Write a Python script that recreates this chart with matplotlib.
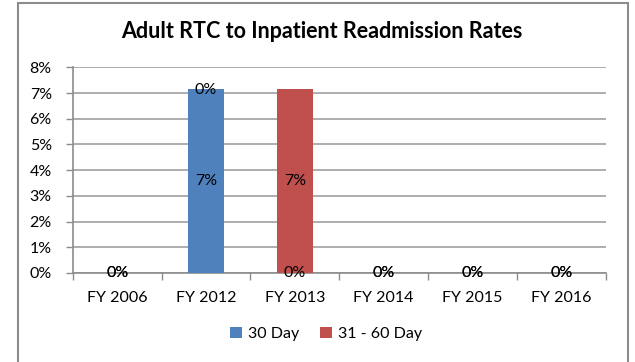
import matplotlib.pyplot as plt
from matplotlib.patches import Rectangle
from matplotlib.ticker import FuncFormatter

years = ["FY 2006", "FY 2012", "FY 2013", "FY 2014", "FY 2015", "FY 2016"]
day30 = [0, 1 / 14, 0, 0, 0, 0]
day31_60 = [0, 0, 1 / 14, 0, 0, 0]

plt.rcParams['font.family'] = ['Lato', 'DejaVu Sans']

fig = plt.figure(figsize=(6.35, 3.62), dpi=100)
ax = fig.add_axes([0.1145, 0.246, 0.8395, 0.568])

# chart frame, open at the bottom edge
fig.patches.append(Rectangle((17.5 / 635, -0.05), (628 - 17.5) / 635, 1.05 - 3.5 / 362,
                             transform=fig.transFigure, fill=False,
                             edgecolor='#8c8c8c', linewidth=1.5))

x = range(len(years))
w = 0.41
b1 = ax.bar(x, day30, w, color='#4F81BD', label='30 Day', zorder=3)
b2 = ax.bar(x, day31_60, w, bottom=day30, color='#C0504D', label='31 - 60 Day', zorder=3)

# centred value labels on each stacked segment
for i in x:
    for val, base in ((day30[i], 0), (day31_60[i], day30[i])):
        ax.text(i, base + val / 2 - 0.0001, f"{val:.0%}", ha='center', va='center',
                fontsize=11.5, color='black', zorder=4)

ax.set_ylim(0, 0.08)
ax.set_yticks([k / 100 for k in range(9)])
ax.yaxis.set_major_formatter(FuncFormatter(lambda v, p: f"{v:.0%}"))
ax.set_xlim(-0.5, len(years) - 0.5)
ax.set_xticks(list(x))
ax.set_xticklabels(years)
ax.set_xticks([k - 0.5 for k in range(len(years) + 1)], minor=True)
ax.tick_params(axis='x', which='major', length=0, pad=13, labelsize=11.5)
ax.tick_params(axis='x', which='minor', length=5, color='#8c8c8c', width=1)
ax.tick_params(axis='y', length=5, color='#8c8c8c', width=1, labelsize=11.5, pad=10)
ax.yaxis.grid(True, color='#a0a0a0', linewidth=1.2, zorder=0)
for s in ['top', 'right']:
    ax.spines[s].set_visible(False)
ax.spines['left'].set_color('#8c8c8c')
ax.spines['bottom'].set_color('#8c8c8c')
ax.spines['left'].set_linewidth(1.2)
ax.spines['bottom'].set_linewidth(1.2)

fig.text(322 / 635, 1 - 32 / 362, "Adult RTC to Inpatient Readmission Rates",
         ha='center', va='center', fontsize=15.5, fontweight='bold')

fig.legend(handles=[b1, b2], loc='center', bbox_to_anchor=(326 / 635, 1 - 334 / 362),
           ncol=2, frameon=False, fontsize=11.5, handlelength=0.75, handleheight=0.75,
           handletextpad=0.4, columnspacing=1.3)

fig.savefig("out.png", dpi=100)
